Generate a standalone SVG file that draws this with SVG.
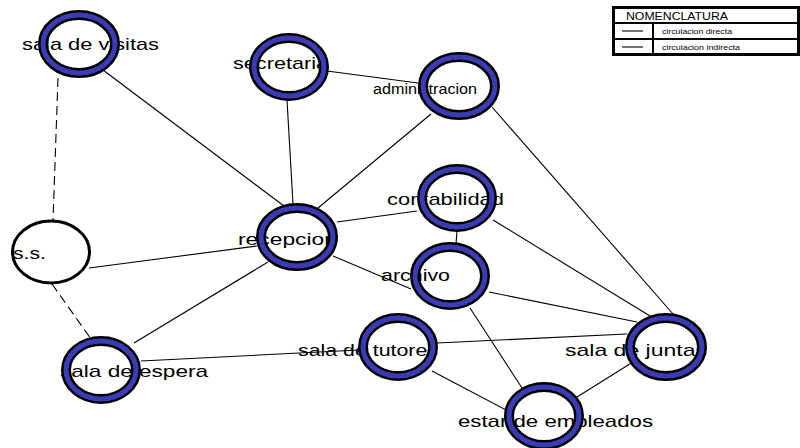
<svg xmlns="http://www.w3.org/2000/svg" width="800" height="448" viewBox="0 0 800 448">
<style>
.bg{fill:#ffffff}
.ln{stroke:#000;stroke-width:1.1;fill:none}
.dash{stroke-dasharray:9 5}
.lbl{font-family:"Liberation Sans",Arial,sans-serif;font-size:17px;fill:#000}
.sm{font-size:14px}
.ro{fill:none;stroke:#000;stroke-width:10}
.ri{fill:none;stroke:#3b3bb5;stroke-width:5}
.plain{fill:none;stroke:#000;stroke-width:3}
.lg{fill:none;stroke:#000;stroke-width:3}
.lgi{stroke:#000;stroke-width:2}
.lt{font-family:"Liberation Sans",Arial,sans-serif;fill:#000}
</style>
<rect class="bg" x="0" y="0" width="800" height="448"/>
<g id="connectors">
<line class="ln dash" x1="58" y1="78" x2="53" y2="221"/>
<line class="ln" x1="103" y1="70" x2="284" y2="206"/>
<line class="ln" x1="287" y1="100" x2="293" y2="204"/>
<line class="ln" x1="327" y1="71" x2="418" y2="83"/>
<line class="ln" x1="431" y1="114" x2="318" y2="208"/>
<line class="ln" x1="492" y1="107" x2="673" y2="314"/>
<line class="ln" x1="337" y1="222" x2="417" y2="211"/>
<line class="ln" x1="89" y1="268" x2="257" y2="246"/>
<line class="ln" x1="134" y1="343" x2="268" y2="262"/>
<line class="ln" x1="333" y1="256" x2="411" y2="289"/>
<line class="ln" x1="457" y1="231" x2="456" y2="244"/>
<line class="ln" x1="493" y1="220" x2="650" y2="316"/>
<line class="ln" x1="489" y1="292" x2="637" y2="322"/>
<line class="ln" x1="470" y1="308" x2="522" y2="388"/>
<line class="ln dash" x1="52" y1="284" x2="91" y2="339"/>
<line class="ln" x1="141" y1="361" x2="359" y2="350"/>
<line class="ln" x1="437" y1="343" x2="627" y2="334"/>
<line class="ln" x1="432" y1="371" x2="510" y2="412"/>
<line class="ln" x1="633" y1="362" x2="577" y2="397"/>
</g>
<g id="sala-de-visitas">
<text class="lbl" x="22" y="50" textLength="137" lengthAdjust="spacingAndGlyphs">sala de visitas</text>
<ellipse class="ro" cx="79" cy="44" rx="36" ry="29"/>
<ellipse class="ri" cx="79" cy="44" rx="36" ry="29"/>
</g>
<g id="secretaria">
<text class="lbl" x="233" y="69" textLength="95" lengthAdjust="spacingAndGlyphs">secretaria</text>
<ellipse class="ro" cx="289" cy="67" rx="35" ry="29"/>
<ellipse class="ri" cx="289" cy="67" rx="35" ry="29"/>
</g>
<g id="administracion">
<text class="lbl sm" x="373" y="94" textLength="104" lengthAdjust="spacingAndGlyphs">administracion</text>
<ellipse class="ro" cx="459" cy="86" rx="36" ry="29"/>
<ellipse class="ri" cx="459" cy="86" rx="36" ry="29"/>
</g>
<g id="contabilidad">
<text class="lbl" x="387" y="205" textLength="117" lengthAdjust="spacingAndGlyphs">contabilidad</text>
<ellipse class="ro" cx="457" cy="198" rx="35" ry="29"/>
<ellipse class="ri" cx="457" cy="198" rx="35" ry="29"/>
</g>
<g id="archivo">
<text class="lbl" x="381" y="281" textLength="69" lengthAdjust="spacingAndGlyphs">archivo</text>
<ellipse class="ro" cx="450" cy="276" rx="35" ry="29"/>
<ellipse class="ri" cx="450" cy="276" rx="35" ry="29"/>
</g>
<g id="recepcion">
<text class="lbl" x="238" y="245" textLength="99" lengthAdjust="spacingAndGlyphs">recepcion</text>
<ellipse class="ro" cx="297" cy="237" rx="36" ry="29"/>
<ellipse class="ri" cx="297" cy="237" rx="36" ry="29"/>
</g>
<g id="ss">
<text class="lbl" x="13" y="259" textLength="33" lengthAdjust="spacingAndGlyphs">s.s.</text>
<ellipse class="plain" cx="51" cy="252" rx="38.5" ry="31"/>
</g>
<g id="sala-de-espera">
<text class="lbl" x="60" y="377" textLength="148" lengthAdjust="spacingAndGlyphs">sala de espera</text>
<ellipse class="ro" cx="101" cy="370" rx="35" ry="29"/>
<ellipse class="ri" cx="101" cy="370" rx="35" ry="29"/>
</g>
<g id="sala-de-tutores">
<text class="lbl" x="298" y="356" textLength="140" lengthAdjust="spacingAndGlyphs">sala de tutores</text>
<ellipse class="ro" cx="398" cy="347" rx="35" ry="29"/>
<ellipse class="ri" cx="398" cy="347" rx="35" ry="29"/>
</g>
<g id="sala-de-juntas">
<text class="lbl" x="565" y="356" textLength="142" lengthAdjust="spacingAndGlyphs">sala de juntas</text>
<ellipse class="ro" cx="666" cy="347" rx="36" ry="29"/>
<ellipse class="ri" cx="666" cy="347" rx="36" ry="29"/>
</g>
<g id="estar-de-empleados">
<text class="lbl" x="458" y="427" textLength="195" lengthAdjust="spacingAndGlyphs">estar de empleados</text>
<ellipse class="ro" cx="544" cy="416" rx="35" ry="29"/>
<ellipse class="ri" cx="544" cy="416" rx="35" ry="29"/>
</g>
<g id="legend">
<rect class="lg" x="613.5" y="7.5" width="185" height="47"/>
<line class="lgi" x1="613" y1="23" x2="799" y2="23"/>
<line class="lgi" x1="613" y1="39" x2="799" y2="39"/>
<line class="lgi" x1="653" y1="23" x2="653" y2="54"/>
<line class="ln" x1="622" y1="31" x2="643" y2="31"/>
<line class="ln" x1="622" y1="47" x2="643" y2="47"/>
<text class="lt" x="626" y="20" font-size="11" textLength="102" lengthAdjust="spacingAndGlyphs">NOMENCLATURA</text>
<text class="lt" x="662" y="34" font-size="7" textLength="70" lengthAdjust="spacingAndGlyphs">circulacion directa</text>
<text class="lt" x="662" y="50" font-size="7" textLength="78" lengthAdjust="spacingAndGlyphs">circulacion indirecta</text>
</g>
</svg>
